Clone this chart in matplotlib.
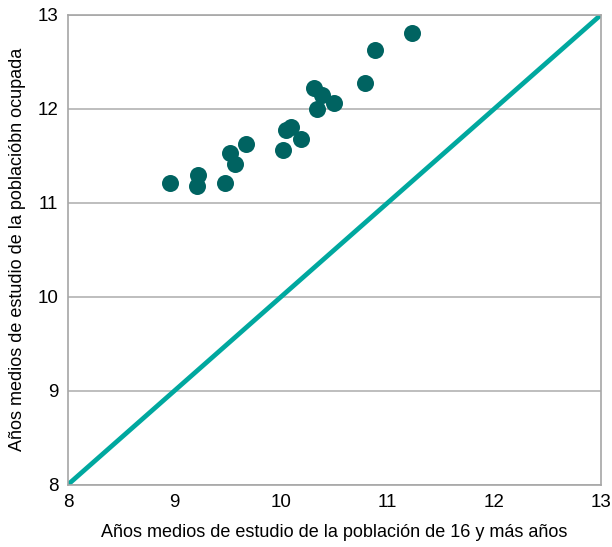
import matplotlib

matplotlib.use("Agg")
import matplotlib.pyplot as plt

plt.rcParams["font.family"] = ["Liberation Sans", "DejaVu Sans"]

# años medios de estudio: población 16+ (x) vs población ocupada (y)
anos_16_mas = [8.96, 9.21, 9.22, 9.47, 9.52, 9.57, 9.67, 10.02, 10.05,
               10.09, 10.19, 10.31, 10.38, 10.34, 10.50, 10.79, 10.88, 11.23]
anos_ocupada = [11.21, 11.18, 11.30, 11.21, 11.53, 11.41, 11.63, 11.56, 11.77,
                11.81, 11.68, 12.22, 12.15, 12.00, 12.06, 12.27, 12.62, 12.81]
diagonal = [8, 13]
ticks = [8, 9, 10, 11, 12, 13]

fig = plt.figure(figsize=(6.12, 5.47), dpi=100)
ax = fig.add_axes([0.111, 0.114, 0.871, 0.859])

ax.plot(diagonal, diagonal, color="#00a89f", lw=3.4, zorder=2, solid_capstyle="butt")
ax.scatter(anos_16_mas, anos_ocupada, s=150, color="#006361", zorder=3, linewidths=0)

ax.set_xlim(8, 13)
ax.set_ylim(8, 13)
ax.set_xticks(ticks)
ax.set_yticks(ticks)
ax.yaxis.grid(True, color="#b3b3b3", lw=1.2)
ax.set_axisbelow(True)
ax.tick_params(length=0, labelsize=13.5, pad=7)
for s in ax.spines.values():
    s.set_color("#a6a6a6")
    s.set_linewidth(1.2)

ax.set_xlabel("Años medios de estudio de la población de 16 y más años", fontsize=13, labelpad=9)
ax.set_ylabel("Años medios de estudio de la poblacióbn ocupada", fontsize=13, labelpad=8)

fig.savefig("out.png", dpi=100)
